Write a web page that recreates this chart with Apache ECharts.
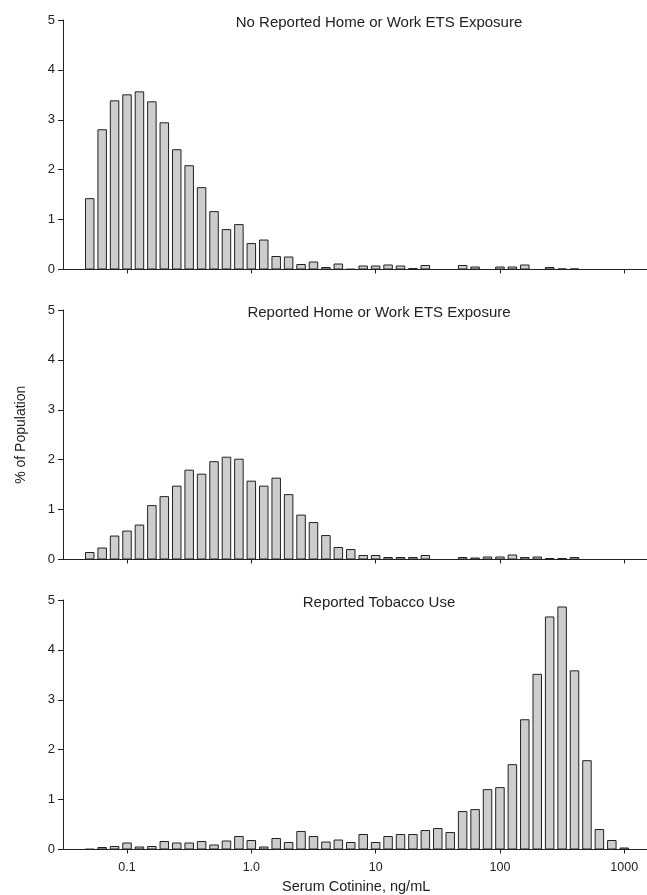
<!DOCTYPE html>
<html><head><meta charset="utf-8">
<script src="https://cdn.jsdelivr.net/npm/echarts@6/dist/echarts.min.js"></script>
<style>html,body{margin:0;padding:0;background:#fff}#c{width:647px;height:895px}</style>
</head><body><div id="c"></div>
<script>
// bin centres, log10(ng/mL)
const binLog = [-1.3,-1.2,-1.1,-1.0,-0.9,-0.8,-0.7,-0.6,-0.5,-0.4,-0.3,-0.2,-0.1,0.0,0.1,0.2,0.3,0.4,0.5,0.6,0.7,0.8,0.9,1.0,1.1,1.2,1.3,1.4,1.5,1.6,1.7,1.8,1.9,2.0,2.1,2.2,2.3,2.4,2.5,2.6,2.7,2.8,2.9,3.0];
const noExposure = [1.43,2.81,3.39,3.51,3.57,3.37,2.95,2.41,2.09,1.65,1.17,0.81,0.91,0.53,0.60,0.27,0.26,0.11,0.16,0.05,0.12,0.01,0.08,0.08,0.10,0.08,0.03,0.09,0,0,0.09,0.06,0,0.06,0.06,0.10,0,0.05,0.02,0.02,0,0,0,0];
const etsExposure = [0.15,0.24,0.48,0.58,0.70,1.09,1.27,1.48,1.80,1.72,1.97,2.06,2.02,1.58,1.48,1.64,1.31,0.90,0.75,0.49,0.25,0.21,0.09,0.09,0.05,0.05,0.05,0.09,0,0,0.05,0.04,0.06,0.06,0.10,0.05,0.06,0.03,0.03,0.05,0,0,0,0];
const tobaccoUse = [0.01,0.05,0.07,0.14,0.06,0.07,0.17,0.14,0.14,0.17,0.10,0.18,0.27,0.19,0.06,0.23,0.15,0.37,0.27,0.16,0.20,0.15,0.31,0.15,0.27,0.31,0.31,0.39,0.43,0.35,0.77,0.81,1.21,1.25,1.71,2.61,3.52,4.67,4.87,3.59,1.79,0.41,0.19,0.04];
const panelTitles = ['No Reported Home or Work ETS Exposure','Reported Home or Work ETS Exposure','Reported Tobacco Use'];
const xTickPos = [-1,0,1,2,3];
const xTickLabels = ['0.1','1.0','10','100','1000'];

const FONT = 'Liberation Sans, Arial, sans-serif';
const tops = [20,310,600];
const panels = [noExposure, etsExposure, tobaccoUse];
const chart = echarts.init(document.getElementById('c'));
const grid = [], xAxis = [], yAxis = [], series = [], title = [];
panels.forEach((vals, i) => {
  grid.push({left:63, right:0, top:tops[i], height:249.5});
  xAxis.push({
    type:'value', gridIndex:i, min:-1.515, max:3.183,
    axisLine:{show:true, onZero:false, lineStyle:{color:'#222', width:1}},
    axisTick:{show:true, length:4, inside:false, customValues:xTickPos, lineStyle:{color:'#222'}},
    axisLabel:{show:i===2, customValues:xTickPos, margin:12, color:'#222', fontSize:12.5, fontFamily:FONT,
      formatter:(v)=>{const k=xTickPos.indexOf(Math.round(v)); return k>=0?xTickLabels[k]:'';}},
    splitLine:{show:false}
  });
  yAxis.push({
    type:'value', gridIndex:i, min:0, max:5, interval:1,
    axisLine:{show:true, onZero:false, lineStyle:{color:'#222', width:1}},
    axisTick:{show:true, length:5, lineStyle:{color:'#222'}},
    axisLabel:{color:'#222', fontSize:13, fontFamily:FONT, margin:8},
    splitLine:{show:false},
    name: i===1 ? '% of Population' : '',
    nameLocation:'middle', nameGap:35, nameRotate:90,
    nameTextStyle:{color:'#222', fontSize:14, fontFamily:FONT}
  });
  series.push({
    type:'bar', xAxisIndex:i, yAxisIndex:i, barWidth:9.5,
    data: binLog.map((x,j)=>[x, vals[j]]),
    itemStyle:{color:'#cdcdcd', borderColor:'#222', borderWidth:1},
    silent:true, animation:false
  });
  title.push({text:panelTitles[i], left:374, top:tops[i]-10, textAlign:'center',
    textStyle:{fontSize:15, fontWeight:'normal', color:'#222', fontFamily:FONT}});
});
chart.setOption({
  animation:false,
  title, grid, xAxis, yAxis, series,
  graphic:[{type:'text', left:282, top:879, style:{text:'Serum Cotinine, ng/mL', fontSize:14.5, fill:'#222', fontFamily:FONT}}]
});
</script></body></html>
